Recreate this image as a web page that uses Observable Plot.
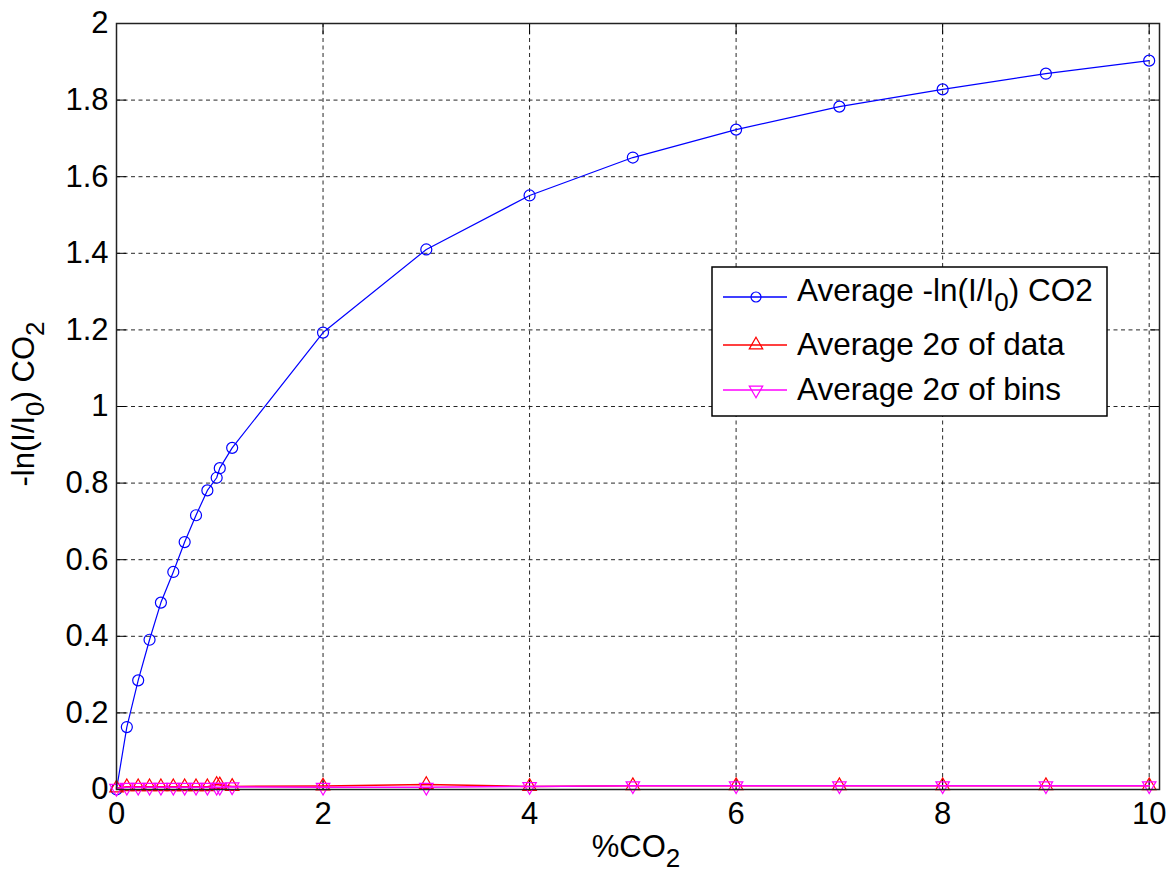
<!DOCTYPE html>
<html><head><meta charset="utf-8">
<script src="https://cdn.jsdelivr.net/npm/d3@7"></script>
<script src="https://cdn.jsdelivr.net/npm/@observablehq/plot@0.6"></script>
<style>body{margin:0;background:#fff;} svg{display:block}</style>
</head><body><div id="chart"></div>
<script>
// ---- data ----
const co2Pct    = [0, 0.1, 0.21, 0.32, 0.43, 0.55, 0.66, 0.77, 0.88, 0.97, 1.0, 1.12, 2, 3, 4, 5, 6, 7, 8, 9, 10];
const avgAbs    = [0, 0.163, 0.285, 0.391, 0.488, 0.568, 0.646, 0.716, 0.781, 0.814, 0.839, 0.892, 1.193, 1.410, 1.551, 1.650, 1.723, 1.783, 1.828, 1.869, 1.903];
const sigmaData = [0.004, 0.007, 0.007, 0.007, 0.007, 0.007, 0.007, 0.007, 0.007, 0.013, 0.012, 0.008, 0.009, 0.013, 0.008, 0.010, 0.010, 0.010, 0.010, 0.010, 0.010];
const sigmaBins = [0.003, 0.006, 0.006, 0.006, 0.006, 0.006, 0.006, 0.006, 0.006, 0.006, 0.006, 0.007, 0.006, 0.006, 0.008, 0.010, 0.010, 0.010, 0.010, 0.010, 0.010];
const xTicks = [0, 2, 4, 6, 8, 10];
const yTicks = [0, 0.2, 0.4, 0.6, 0.8, 1, 1.2, 1.4, 1.6, 1.8, 2];
const yTickLabels = ["0", "0.2", "0.4", "0.6", "0.8", "1", "1.2", "1.4", "1.6", "1.8", "2"];

const rows = co2Pct.map((x, i) => ({x, a: avgAbs[i], d: sigmaData[i], b: sigmaBins[i]}));
const font = "'Liberation Sans', Arial, sans-serif";
const gridStyle = {stroke: "#000", strokeOpacity: 0.85, strokeDasharray: "4,3.5"};

const plot = Plot.plot({
  width: 1168, height: 875,
  marginLeft: 116, marginRight: 9, marginTop: 23, marginBottom: 86,
  style: {fontFamily: font, fontSize: "31px", background: "#fff", color: "#000"},
  x: {domain: [0, 10.1]},
  y: {domain: [0, 2]},
  marks: [
    Plot.gridX(xTicks, gridStyle),
    Plot.gridY(yTicks, gridStyle),
    Plot.axisX(xTicks, {anchor: "bottom", tickSize: 0, tickPadding: 12, label: null, tickFormat: d => String(d)}),
    Plot.axisX(xTicks, {anchor: "bottom", tickSize: -10, label: null, tickFormat: () => ""}),
    Plot.axisX(xTicks, {anchor: "top", tickSize: -10, label: null, tickFormat: () => ""}),
    Plot.axisY(yTicks, {anchor: "left", tickSize: 0, tickPadding: 8, label: null, tickFormat: (d, i) => yTickLabels[i]}),
    Plot.axisY(yTicks, {anchor: "left", tickSize: -10, label: null, tickFormat: () => ""}),
    Plot.axisY(yTicks, {anchor: "right", tickSize: -10, label: null, tickFormat: () => ""}),
    Plot.line(rows, {x: "x", y: "a", stroke: "#0000ff", strokeWidth: 1.2}),
    Plot.dot(rows, {x: "x", y: "a", stroke: "#0000ff", symbol: "circle", r: 5.5, strokeWidth: 1.2}),
    Plot.line(rows, {x: "x", y: "d", stroke: "#ff0000", strokeWidth: 1.5}),
    Plot.dot(rows, {x: "x", y: "d", stroke: "#ff0000", symbol: "triangle", r: 5, strokeWidth: 1.2}),
    Plot.line(rows, {x: "x", y: "b", stroke: "#ff00ff", strokeWidth: 1.5}),
    Plot.dot(rows, {x: "x", y: "b", stroke: "#ff00ff", symbol: "triangle", rotate: 180, r: 5, strokeWidth: 1.2}),
    Plot.frame({stroke: "#222", strokeWidth: 1.5})
  ]
});
document.getElementById("chart").appendChild(plot);

const svg = d3.select(plot);
const subSize = "26px";

// x-axis label  %CO2
const xl = svg.append("text").attr("x", 636).attr("y", 857).attr("text-anchor", "middle")
  .attr("font-family", font).attr("font-size", "31px").attr("fill", "#000");
xl.append("tspan").text("%CO");
xl.append("tspan").attr("dy", 10).attr("font-size", subSize).text("2");

// y-axis label  -ln(I/I0) CO2
const yl = svg.append("text").attr("transform", "translate(34,404) rotate(-90)").attr("text-anchor", "middle")
  .attr("font-family", font).attr("font-size", "31px").attr("fill", "#000");
yl.append("tspan").text("-ln(I/I");
yl.append("tspan").attr("dy", 10).attr("font-size", subSize).text("0");
yl.append("tspan").attr("dy", -10).text(") CO");
yl.append("tspan").attr("dy", 10).attr("font-size", subSize).text("2");

// legend
const lg = svg.append("g");
lg.append("rect").attr("x", 712).attr("y", 267).attr("width", 395).attr("height", 149)
  .attr("fill", "#fff").attr("stroke", "#000").attr("stroke-width", 1.5);
const entries = [
  {lineY: 297, base: 301, color: "#0000ff", sym: d3.symbolCircle, rot: 0, parts: [["Average -ln(I/I", 0], ["0", 10], [") CO2", -10]]},
  {lineY: 345, base: 355, color: "#ff0000", sym: d3.symbolTriangle, rot: 0, parts: [["Average 2σ of data", 0]]},
  {lineY: 390, base: 400, color: "#ff00ff", sym: d3.symbolTriangle, rot: 180, parts: [["Average 2σ of bins", 0]]}
];
for (const e of entries) {
  lg.append("line").attr("x1", 723).attr("x2", 787).attr("y1", e.lineY).attr("y2", e.lineY)
    .attr("stroke", e.color).attr("stroke-width", 1.5);
  lg.append("path").attr("d", d3.symbol(e.sym, Math.PI * 25)())
    .attr("transform", `translate(756,${e.lineY}) rotate(${e.rot})`)
    .attr("fill", "none").attr("stroke", e.color).attr("stroke-width", 1.2);
  const t = lg.append("text").attr("x", 797).attr("y", e.base).attr("text-anchor", "start")
    .attr("font-family", font).attr("font-size", "31.5px").attr("fill", "#000");
  for (const [s, dy] of e.parts) {
    const sp = t.append("tspan").attr("dy", dy).text(s);
    if (dy > 0) sp.attr("font-size", subSize);
  }
}
</script>
</body></html>
